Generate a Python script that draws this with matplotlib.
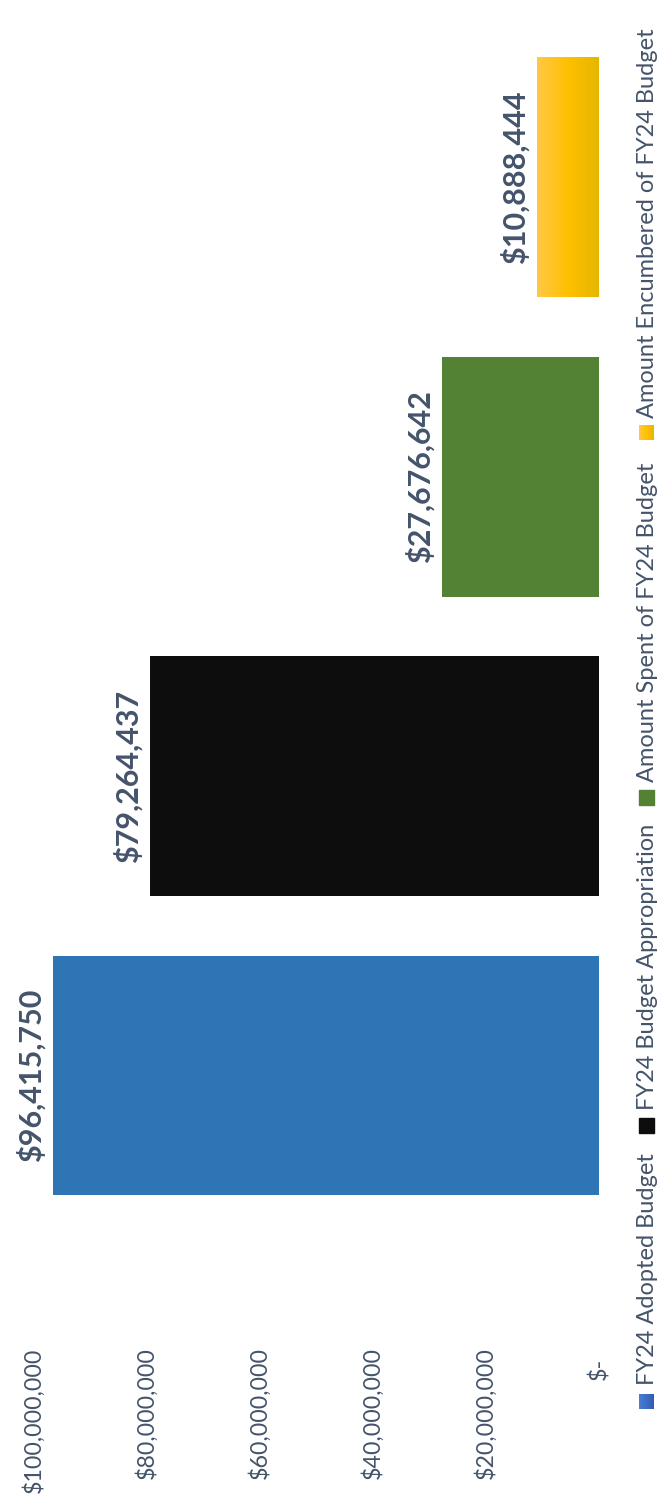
import matplotlib.pyplot as plt
import matplotlib.transforms as mtransforms
from matplotlib.colors import LinearSegmentedColormap
from matplotlib.patches import Rectangle
import numpy as np

plt.rcParams['font.family'] = ['Lato', 'DejaVu Sans']

# data
categories = ['FY24 Adopted Budget', 'FY24 Budget Appropriation',
              'Amount Spent of FY24 Budget', 'Amount Encumbered of FY24 Budget']
values = [96415750, 79264437, 27676642, 10888444]
tick_vals = [0, 20e6, 40e6, 60e6, 80e6, 100e6]
tick_labels = ['$-', '$20,000,000', '$40,000,000', '$60,000,000', '$80,000,000', '$100,000,000']

colors = ['#2E75B6', '#0D0D0D', '#548235', '#FFC000']
TXT = '#44546A'
yellow_cm = LinearSegmentedColormap.from_list('y', ['#FFC846', '#FFC000', '#E5B700'])
blue_cm = LinearSegmentedColormap.from_list('b', ['#4B7DD3', '#2F5DB5'])
grad = np.linspace(0, 1, 64).reshape(1, -1)

W, H = 671, 1501
fig = plt.figure(figsize=(W / 100, H / 100), dpi=100)
ax = fig.add_axes([33 / W, 1 - 1225 / H, 566 / W, 1197 / H])

ypos = np.arange(len(values))
bars = ax.barh(ypos, values, height=0.8, color=colors)

# yellow bar has a horizontal gradient fill
yb = bars[3]
ax.imshow(grad, cmap=yellow_cm, aspect='auto', zorder=3,
          extent=(yb.get_x() + yb.get_width(), yb.get_x(), yb.get_y(), yb.get_y() + yb.get_height()))

ax.set_xlim(100e6, 0)
ax.set_ylim(-0.5, 3.5)

for b, v in zip(bars, values):
    ax.annotate(f'${v:,}', xy=(v, b.get_y() + b.get_height() / 2), xytext=(-8, 0),
                textcoords='offset pixels', rotation=90, ha='right', va='center',
                fontsize=22, fontweight='bold', color=TXT)

ax.set_xticks(tick_vals, tick_labels)
ax.tick_params(axis='x', length=0, pad=88, labelrotation=90, labelsize=16.7, labelcolor=TXT)
ax.set_yticks([])
for s in ax.spines.values():
    s.set_visible(False)
lab0 = ax.get_xticklabels()[0]
lab0.set_transform(lab0.get_transform() + mtransforms.ScaledTranslation(0, -0.11, fig.dpi_scale_trans))

# legend, drawn rotated like the rest
lax = fig.add_axes([0, 0, 1, 1])
lax.axis('off')
marker_bottom = [1409, 1133, 805, 440]
text_start = [1385, 1110, 782, 418]
for i, name in enumerate(categories):
    mb = marker_bottom[i]
    if i == 0:
        lax.imshow(grad, cmap=blue_cm, aspect='auto', extent=(639, 654, mb, mb - 15))
    elif i == 3:
        lax.imshow(grad, cmap=yellow_cm, aspect='auto', extent=(639, 654, mb, mb - 15))
    else:
        lax.add_patch(Rectangle((639, mb - 15), 15, 15, color=colors[i]))
    lax.text(647, text_start[i], name, rotation=90, ha='center', va='bottom',
             fontsize=17, color=TXT)
lax.set_xlim(0, W)
lax.set_ylim(H, 0)

fig.savefig('out.png', dpi=100)
